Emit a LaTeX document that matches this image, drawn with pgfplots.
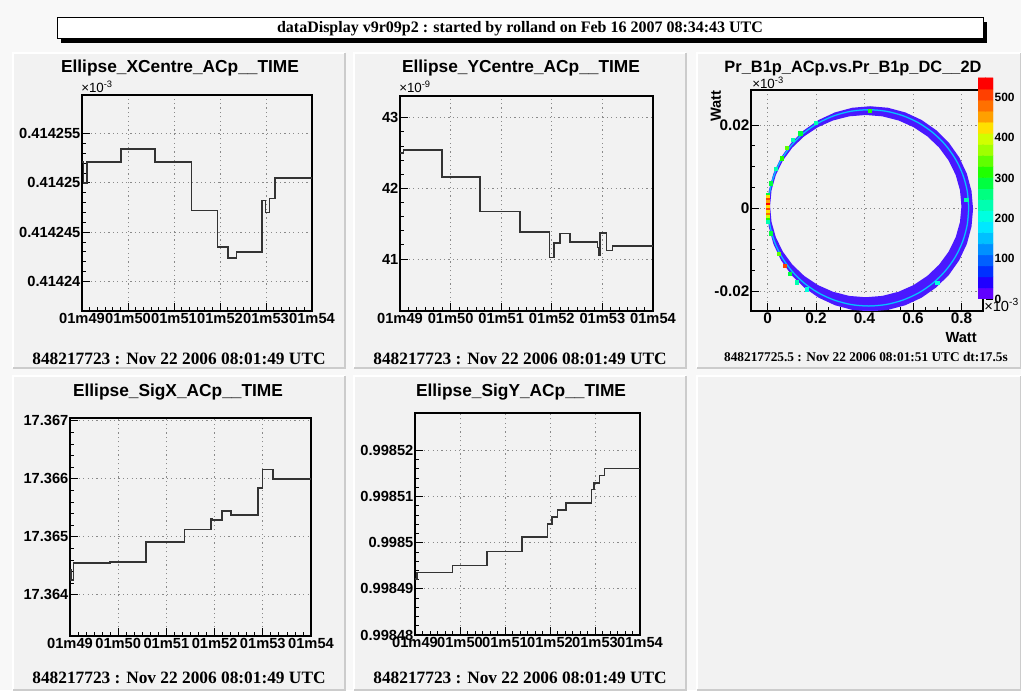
\documentclass[border=0pt]{standalone}
\usepackage{fontspec}
\setmainfont{Liberation Serif}
\setsansfont{Liberation Sans}
\usepackage{pgfplots}
\pgfplotsset{compat=1.18}
\definecolor{canvasbg}{HTML}{F8F8F8}
\definecolor{padbg}{HTML}{F2F2F2}
\definecolor{padedge}{HTML}{CCCCCC}
\definecolor{gridc}{HTML}{8A8A8A}
\definecolor{ringv}{HTML}{4A18FF}
\definecolor{ringb}{HTML}{1590FF}
\definecolor{ringc}{HTML}{00D8FF}
\pgfplotsset{
  colormap={root20}{rgb255=(96,0,255) rgb255=(32,0,255) rgb255=(0,48,255) rgb255=(0,96,255)
    rgb255=(0,144,255) rgb255=(0,192,255) rgb255=(0,232,255) rgb255=(0,255,224) rgb255=(0,255,176)
    rgb255=(0,255,128) rgb255=(0,255,64) rgb255=(32,255,0) rgb255=(96,255,0) rgb255=(160,255,0)
    rgb255=(208,255,0) rgb255=(255,224,0) rgb255=(255,160,0) rgb255=(255,112,0) rgb255=(255,64,0)
    rgb255=(255,0,0)},
  rootpad/.style={
    scale only axis, anchor=south west, scaled ticks=false,
    axis line style={line width=1.1pt},
    tick align=inside, xtick pos=left, ytick pos=left,
    major tick length=6pt, minor tick length=3pt,
    every tick/.style={black, line width=0.6pt},
    grid=major, major grid style={gridc, line width=0.6pt, dash pattern=on 0.9pt off 2.4pt},
    ticklabel style={font=\sffamily\bfseries\fontsize{11}{12}\selectfont},
    xticklabel style={inner sep=1.5pt},
    yticklabel style={inner sep=1pt},
    xmin=0, xmax=5, xtick={0,1,2,3,4,5},
    xticklabels={01m49,01m50,01m51,01m52,01m53,01m54},
    minor x tick num=5, minor y tick num=4,
    clip=true,
  },
  rootline/.style={const plot, black!80, line width=1.2pt},
}
\begin{document}
\begin{tikzpicture}[x=0.75pt,y=0.75pt]
% canvas
\fill[canvasbg] (0,0) rectangle (1021,690);
% global title box
\fill[black] (61,647) rectangle (987,668);
\filldraw[fill=white, draw=black, line width=0.75pt] (57,651) rectangle (983,672);
\node[font=\rmfamily\bfseries\fontsize{12}{14}\selectfont] at (520,661.5)
  {dataDisplay v9r09p2 : started by rolland on Feb 16 2007 08:34:43 UTC};
% pads
\foreach \x/\y/\w/\h in {13/322/332/315, 354/322/332/315, 697/322/324/315,
                          13/0/332/314, 354/0/332/314, 697/0/324/314}{
  \fill[padbg] (\x,\y) rectangle ++(\w,\h);
  \draw[white, line width=1.1pt] (\x,\y) -- ++(0,\h) -- ++(\w,0);
  \draw[padedge, line width=1.1pt] (\x,\y) -- ++(\w,0) -- ++(0,\h);
}

% ---------- Pad 1: Ellipse_XCentre (y = (value-0.41424)*1e6, value x1e-3)
\begin{axis}[rootpad, at={(61.5pt,284.25pt)}, width=172.5pt, height=162pt,
  ymin=-3.0, ymax=18.9, ytick={0,5,10,15},
  yticklabels={0.41424,0.414245,0.41425,0.414255}]
\addplot[rootline] coordinates {(0,12.1)(0.036,10.0)(0.109,12.1)(0.85,13.4)(1.59,12.1)
  (2.38,7.2)(2.95,3.5)(3.17,2.4)(3.36,3.0)(3.91,8.2)(3.99,7.0)(4.08,8.4)(4.20,10.5)(5,10.5)};
\end{axis}
\node[anchor=south west, inner sep=0pt, font=\sffamily\fontsize{10}{11}\selectfont] at (81,597) {×10\textsuperscript{-3}};
\node[font=\sffamily\bfseries\fontsize{13}{15}\selectfont] at (180,622) {Ellipse\_XCentre\_ACp\_\_TIME};
\node[font=\rmfamily\bfseries\fontsize{13}{15}\selectfont] at (179,331) {848217723 : Nov 22 2006 08:01:49 UTC};

% ---------- Pad 2: Ellipse_YCentre (x1e-9)
\begin{axis}[rootpad, at={(300pt,284.25pt)}, width=189.75pt, height=161.25pt,
  ymin=40.264, ymax=43.307, ytick={41,42,43}, yticklabels={41,42,43}]
\addplot[rootline] coordinates {(0,42.50)(0.07,42.54)(0.83,42.16)(1.58,41.675)(2.375,41.38)
  (2.954,41.02)(3.046,41.23)(3.164,41.36)(3.355,41.24)(3.90,41.16)(3.92,41.06)(3.95,41.37)
  (4.08,41.12)(4.20,41.18)(5,41.18)};
\end{axis}
\node[anchor=south west, inner sep=0pt, font=\sffamily\fontsize{10}{11}\selectfont] at (399,597) {×10\textsuperscript{-9}};
\node[font=\sffamily\bfseries\fontsize{13}{15}\selectfont] at (521,622) {Ellipse\_YCentre\_ACp\_\_TIME};
\node[font=\rmfamily\bfseries\fontsize{13}{15}\selectfont] at (520,331) {848217723 : Nov 22 2006 08:01:49 UTC};

% ---------- Pad 3: 2D histogram (ring)
\begin{axis}[rootpad, at={(563.25pt,284.25pt)}, width=174pt, height=165.75pt,
  xmin=-0.0687, xmax=0.889, ymin=-0.0247, ymax=0.0284,
  xtick={0,0.2,0.4,0.6,0.8}, xticklabels={0,0.2,0.4,0.6,0.8},
  ytick={-0.02,0,0.02}, yticklabels={-0.02,0,0.02},
  minor x tick num=3, minor y tick num=3,
  ticklabel style={font=\sffamily\bfseries\fontsize{11.5}{13}\selectfont},
  point meta min=0, point meta max=19]
\addplot[fill=ringv, draw=none, even odd rule] coordinates {
 (0.848,-0.00015)(0.8415,0.00413)(0.8224,0.00828)(0.7911,0.01218)(0.7486,0.0157)(0.6962,0.01873)
 (0.6355,0.0212)(0.5684,0.02301)(0.4968,0.02413)(0.423,0.0245)(0.3492,0.02413)(0.2776,0.02301)
 (0.2105,0.0212)(0.1498,0.01873)(0.0974,0.0157)(0.0549,0.01218)(0.0236,0.00828)(0.0045,0.00413)
 (-0.002,-0.00015)(0.0045,-0.00443)(0.0236,-0.00858)(0.0549,-0.01248)(0.0974,-0.016)(0.1498,-0.01903)
 (0.2105,-0.0215)(0.2776,-0.02331)(0.3492,-0.02443)(0.423,-0.0248)(0.4968,-0.02443)(0.5684,-0.02331)
 (0.6355,-0.0215)(0.6962,-0.01903)(0.7486,-0.016)(0.7911,-0.01248)(0.8224,-0.00858)(0.8415,-0.00443)
 (0.848,-0.00015)
 (0.8,0.0005)(0.794,0.0043)(0.7762,0.00799)(0.7471,0.01145)(0.7076,0.01458)(0.6589,0.01728)
 (0.6025,0.01947)(0.5401,0.02108)(0.4736,0.02207)(0.405,0.0224)(0.3364,0.02207)(0.2699,0.02108)
 (0.2075,0.01947)(0.1511,0.01728)(0.1024,0.01458)(0.0629,0.01145)(0.0338,0.00799)(0.016,0.0043)
 (0.01,0.0005)(0.016,-0.0033)(0.0338,-0.00699)(0.0629,-0.01045)(0.1024,-0.01358)(0.1511,-0.01628)
 (0.2075,-0.01847)(0.2699,-0.02008)(0.3364,-0.02107)(0.405,-0.0214)(0.4736,-0.02107)(0.5401,-0.02008)
 (0.6025,-0.01847)(0.6589,-0.01628)(0.7076,-0.01358)(0.7471,-0.01045)(0.7762,-0.00699)(0.794,-0.0033)
 (0.8,0.0005)};
\addplot[ringb, line width=1.1pt, smooth] coordinates {
 (0.830,0.00008)(0.8237,0.00417)(0.8051,0.00814)(0.7746,0.01187)(0.7333,0.01523)(0.6823,0.01814)
 (0.6233,0.0205)(0.558,0.02223)(0.4883,0.0233)(0.4165,0.02365)(0.3447,0.0233)(0.2751,0.02223)
 (0.2098,0.0205)(0.1507,0.01814)(0.0998,0.01523)(0.0584,0.01187)(0.0279,0.00814)(0.0093,0.00417)
 (0.003,0.00008)(0.0093,-0.00402)(0.0279,-0.00799)(0.0584,-0.01172)(0.0998,-0.01508)(0.1507,-0.01799)
 (0.2098,-0.02035)(0.2751,-0.02208)(0.3447,-0.02315)(0.4165,-0.0235)(0.4883,-0.02315)(0.558,-0.02208)
 (0.6233,-0.02035)(0.6823,-0.01799)(0.7333,-0.01508)(0.7746,-0.01172)(0.8051,-0.00799)(0.8237,-0.00402)
 (0.830,0.00008)};
\addplot[ringc, line width=0.4pt, smooth] coordinates {
 (0.830,0.00008)(0.8237,0.00417)(0.8051,0.00814)(0.7746,0.01187)(0.7333,0.01523)(0.6823,0.01814)
 (0.6233,0.0205)(0.558,0.02223)(0.4883,0.0233)(0.4165,0.02365)(0.3447,0.0233)(0.2751,0.02223)
 (0.2098,0.0205)(0.1507,0.01814)(0.0998,0.01523)(0.0584,0.01187)(0.0279,0.00814)(0.0093,0.00417)
 (0.003,0.00008)(0.0093,-0.00402)(0.0279,-0.00799)(0.0584,-0.01172)(0.0998,-0.01508)(0.1507,-0.01799)
 (0.2098,-0.02035)(0.2751,-0.02208)(0.3447,-0.02315)(0.4165,-0.0235)(0.4883,-0.02315)(0.558,-0.02208)
 (0.6233,-0.02035)(0.6823,-0.01799)(0.7333,-0.01508)(0.7746,-0.01172)(0.8051,-0.00799)(0.8237,-0.00402)
 (0.830,0.00008)};
\addplot[scatter, only marks, mark=square*, mark size=1.2pt, point meta=explicit,
  scatter/use mapped color={draw=mapped color, fill=mapped color}] coordinates {
 (0,0.0033)[10] (0,0.0027)[15] (0,0.0021)[18] (0,0.0015)[16] (0,0.0009)[19] (0,0.0003)[15]
 (0,-0.0003)[18] (0,-0.0009)[15] (0,-0.0015)[17] (0,-0.0021)[14] (0,-0.0027)[11] (0,-0.0033)[8]
 (0.012,0.006)[10] (0.035,0.0095)[8] (0.058,0.012)[11] (0.08,0.0145)[12] (0.105,0.0165)[8] (0.135,0.018)[10]
 (0.012,-0.006)[10] (0.045,-0.011)[12] (0.072,-0.0138)[18] (0.09,-0.0158)[10] (0.12,-0.0178)[8]
 (0.16,-0.0195)[7] (0.2,0.0205)[8] (0.42,0.0234)[11] (0.7,-0.018)[7] (0.82,0.002)[8]};
\end{axis}
% palette
\begin{axis}[scale only axis, anchor=south west, at={(733.5pt,293.25pt)}, width=11.25pt, height=165.75pt,
  xmin=-0.5, xmax=1.5, ymin=0, ymax=548, hide x axis, axis y line*=right, scaled ticks=false,
  y axis line style={draw=none}, tick align=inside, major tick length=5pt,
  every tick/.style={black, line width=0.6pt},
  ytick={0,100,200,300,400,500}, yticklabels={0,100,200,300,400,500},
  yticklabel style={font=\sffamily\bfseries\fontsize{9}{10}\selectfont, inner sep=1pt},
  point meta min=0, point meta max=19]
\addplot[matrix plot*, mesh/cols=2, point meta=explicit] coordinates {
 (0,13.7)[0] (1,13.7)[0] (0,41.1)[1] (1,41.1)[1] (0,68.5)[2] (1,68.5)[2] (0,95.9)[3] (1,95.9)[3]
 (0,123.3)[4] (1,123.3)[4] (0,150.7)[5] (1,150.7)[5] (0,178.1)[6] (1,178.1)[6] (0,205.5)[7] (1,205.5)[7]
 (0,232.9)[8] (1,232.9)[8] (0,260.3)[9] (1,260.3)[9] (0,287.7)[10] (1,287.7)[10] (0,315.1)[11] (1,315.1)[11]
 (0,342.5)[12] (1,342.5)[12] (0,369.9)[13] (1,369.9)[13] (0,397.3)[14] (1,397.3)[14] (0,424.7)[15] (1,424.7)[15]
 (0,452.1)[16] (1,452.1)[16] (0,479.5)[17] (1,479.5)[17] (0,506.9)[18] (1,506.9)[18] (0,534.3)[19] (1,534.3)[19]};
\end{axis}
\node[anchor=south west, inner sep=0pt, font=\sffamily\fontsize{10}{11}\selectfont] at (752,601) {×10\textsuperscript{-3}};
\node[anchor=west, inner sep=0pt, font=\sffamily\fontsize{11}{12}\selectfont] at (984,385) {×10\textsuperscript{-3}};
\node[anchor=east, rotate=90, inner sep=0pt, font=\sffamily\bfseries\fontsize{11}{12}\selectfont] at (716,600) {Watt};
\node[anchor=east, inner sep=0pt, font=\sffamily\bfseries\fontsize{11}{12}\selectfont] at (977,352) {Watt};
\node[font=\sffamily\bfseries\fontsize{12.3}{14}\selectfont] at (853,622) {Pr\_B1p\_ACp.vs.Pr\_B1p\_DC\_\_2D};
\node[font=\rmfamily\bfseries\fontsize{10}{12}\selectfont] at (866,333) {848217725.5 : Nov 22 2006 08:01:51 UTC dt:17.5s};

% ---------- Pad 4: Ellipse_SigX (y = (value-17.364)*1e3)
\begin{axis}[rootpad, at={(52.5pt,40.5pt)}, width=180.75pt, height=163.5pt,
  ymin=-0.71, ymax=3.05, ytick={0,1,2,3},
  yticklabels={17.364,17.365,17.366,17.367}]
\addplot[rootline] coordinates {(0,0.43)(0.02,0.253)(0.07,0.552)(0.83,0.57)(1.572,0.914)
  (2.375,1.126)(2.922,1.316)(2.96,1.29)(3.15,1.443)(3.345,1.379)(3.90,1.845)(3.996,2.161)
  (4.21,2.0)(5,2.0)};
\end{axis}
\node[font=\sffamily\bfseries\fontsize{13}{15}\selectfont] at (178,298) {Ellipse\_SigX\_ACp\_\_TIME};
\node[font=\rmfamily\bfseries\fontsize{13}{15}\selectfont] at (179,12) {848217723 : Nov 22 2006 08:01:49 UTC};

% ---------- Pad 5: Ellipse_SigY (y = (value-0.99848)*1e5)
\begin{axis}[rootpad, at={(311.25pt,41.25pt)}, width=168.75pt, height=166.5pt,
  ymin=0, ymax=4.81, ytick={0,1,2,3,4},
  yticklabels={0.99848,0.99849,0.9985,0.99851,0.99852}]
\addplot[rootline] coordinates {(0,1.212)(0.05,1.356)(0.83,1.508)(1.596,1.812)(2.376,2.123)
  (2.947,2.405)(3.044,2.557)(3.163,2.709)(3.356,2.861)(3.92,3.150)(3.98,3.295)(4.10,3.454)
  (4.21,3.606)(5,3.606)};
\end{axis}
\node[font=\sffamily\bfseries\fontsize{13}{15}\selectfont] at (521,298) {Ellipse\_SigY\_ACp\_\_TIME};
\node[font=\rmfamily\bfseries\fontsize{13}{15}\selectfont] at (520,12) {848217723 : Nov 22 2006 08:01:49 UTC};

\pgfresetboundingbox
\path[use as bounding box] (0,0) rectangle (1021,690);
\end{tikzpicture}
\end{document}
